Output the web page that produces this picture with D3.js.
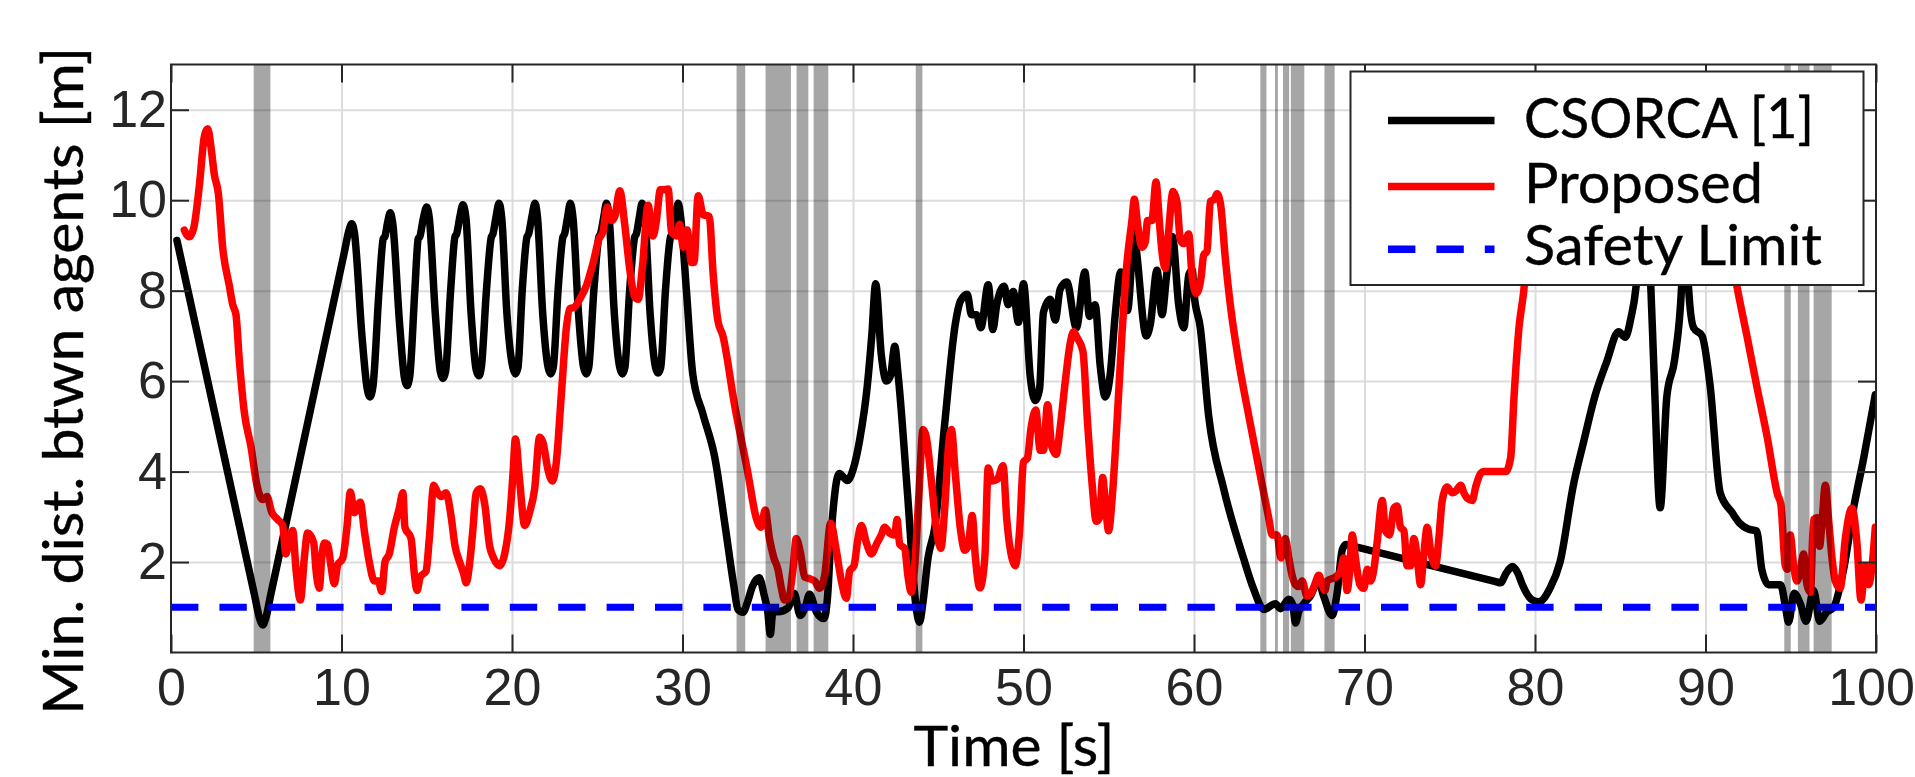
<!DOCTYPE html>
<html><head><meta charset="utf-8">
<script src="https://cdn.jsdelivr.net/npm/d3@7"></script>
<style>body{margin:0;background:#fff;} svg{display:block;}</style>
</head><body>
<svg id="chart" width="1915" height="777"></svg>
<script>
// ---------------- DATA ----------------
const csorcaT = [0.35,1.0,4.9,5.2,5.38,5.55,5.85,10.15,10.45,10.6,10.75,11.2,11.5,11.67,11.85,12.2,12.45,12.55,12.7,12.86,13.0,13.4,13.7,13.84,14.0,14.3,14.5,14.6,14.8,15.0,15.15,15.5,15.8,15.95,16.1,16.4,16.66,16.75,16.95,17.12,17.3,17.6,17.9,18.06,18.2,18.5,18.79,18.88,19.05,19.24,19.4,19.7,20.05,20.2,20.35,20.6,20.88,20.97,21.15,21.35,21.5,21.8,22.12,22.27,22.42,22.7,22.99,23.08,23.25,23.42,23.58,23.9,24.2,24.36,24.5,24.8,25.1,25.19,25.37,25.54,25.7,26.0,26.32,26.48,26.62,26.9,27.2,27.29,27.46,27.63,27.8,28.1,28.42,28.57,28.72,29.0,29.3,29.4,29.57,29.75,29.9,30.23,30.6,31.2,31.9,32.5,33.0,33.25,33.55,33.8,34.1,34.5,34.8,35.0,35.15,35.3,35.6,36.2,36.55,36.9,37.2,37.45,37.85,38.3,38.5,38.7,39.2,39.67,40.0,40.4,40.84,41.1,41.33,41.66,41.96,42.2,42.45,42.64,43.2,43.7,43.9,44.1,44.4,44.8,45.38,46.0,46.3,46.7,46.95,47.24,47.5,47.93,48.2,48.43,48.86,49.1,49.4,49.7,50.0,50.4,50.68,50.94,51.17,51.57,51.86,52.15,52.54,53.1,53.6,53.87,54.2,54.5,54.8,55.09,55.38,55.7,56.1,56.5,56.65,57.2,57.44,57.83,58.12,58.4,58.73,59.1,59.4,59.7,59.9,60.0,60.37,60.86,61.74,62.9,63.5,64.1,64.77,65.07,65.56,65.8,65.95,66.14,66.44,66.83,67.28,67.6,68.1,68.4,68.69,68.9,69.2,77.7,77.98,78.3,78.67,79.0,79.26,79.84,80.23,80.88,81.47,82.25,82.84,83.5,84.2,84.9,85.3,85.6,85.93,86.2,86.45,86.75,87.0,87.34,87.73,88.2,88.6,88.8,89.0,89.3,89.8,90.27,90.86,91.55,92.0,92.5,93.0,93.3,93.7,94.4,94.7,94.87,95.2,95.56,95.9,96.34,96.7,97.12,97.5,98.1,98.69,99.28,99.96];
const csorcaV = [9.11,7.99,1.267,0.75,0.61,0.75,1.28,8.82,9.35,9.48,9.3,7.0,5.85,5.65,5.9,8.0,9.15,9.2,9.5,9.72,9.5,7.3,6.05,5.9,6.1,8.0,9.15,9.2,9.6,9.85,9.6,7.5,6.2,6.06,6.2,8.0,9.2,9.25,9.65,9.9,9.6,7.5,6.25,6.12,6.3,8.0,9.19,9.25,9.6,9.93,9.6,7.5,6.3,6.16,6.3,8.0,9.19,9.25,9.6,9.93,9.6,7.5,6.3,6.16,6.3,8.0,9.19,9.25,9.6,9.93,9.6,7.5,6.3,6.16,6.3,8.0,9.19,9.25,9.6,9.93,9.6,7.5,6.3,6.16,6.3,8.0,9.19,9.25,9.6,9.93,9.6,7.5,6.3,6.18,6.3,8.0,9.19,9.25,9.6,9.93,9.6,8.0,6.16,5.27,4.3,2.8,1.5,0.95,0.89,1.1,1.46,1.65,1.25,0.9,0.4,0.9,0.9,0.99,1.31,0.82,1.0,1.29,0.9,0.75,1.2,2.5,3.96,3.8,4.04,4.72,5.9,7.0,8.15,6.58,6.0,6.12,6.77,6.16,3.5,1.0,0.67,1.1,2.09,2.77,5.06,7.26,7.77,7.92,7.47,7.47,7.18,8.13,7.14,7.69,8.1,7.69,7.98,7.3,8.15,6.08,5.57,5.82,7.52,7.81,7.35,8.03,8.19,7.18,8.41,7.43,7.69,6.33,5.65,6.16,7.47,8.41,7.56,9.3,8.8,7.0,7.26,8.45,7.47,8.36,9.2,7.69,7.18,8.36,8.45,7.94,7.18,5.23,3.62,2.09,1.4,0.95,1.08,0.97,1.18,1.05,0.65,0.9,1.08,1.25,1.58,1.25,0.82,1.33,2.26,2.39,2.362,1.566,1.54,1.75,1.9,1.75,1.5,1.16,1.12,1.42,2.0,3.7,4.64,5.65,6.42,7.09,6.97,7.35,8.1,9.5,10.3,8.5,6.0,3.2,5.65,6.5,8.1,10.0,8.1,7.18,7.0,5.9,3.53,3.1,2.86,2.73,2.69,1.84,1.5,1.5,0.99,0.67,1.31,1.08,0.69,1.37,0.69,0.9,0.99,1.84,3.2,4.3,5.7];

const proposedT = [0.78,1.07,1.33,1.66,1.96,2.15,2.35,2.54,2.78,3.03,3.42,3.62,3.81,4.0,4.3,4.69,5.04,5.38,5.63,5.9,6.26,6.55,6.74,6.88,7.14,7.33,7.59,7.82,8.01,8.37,8.5,8.7,8.84,8.99,9.19,9.38,9.58,9.78,10.07,10.32,10.52,10.75,11.1,11.34,11.63,11.93,12.16,12.36,12.55,12.8,13.1,13.39,13.6,13.72,14.08,14.27,14.43,14.62,14.96,15.15,15.41,15.64,15.84,16.13,16.42,16.66,16.93,17.16,17.32,17.5,17.7,17.9,18.14,18.4,18.69,18.92,19.28,19.57,19.86,20.06,20.2,20.45,20.74,21.04,21.33,21.62,21.82,22.11,22.37,22.6,22.9,23.19,23.39,23.68,23.97,24.36,24.76,25.1,25.34,25.58,25.83,26.03,26.32,26.61,26.9,27.2,27.4,27.65,27.98,28.27,28.47,28.7,28.9,29.16,29.35,29.65,29.84,30.04,30.27,30.53,30.67,30.92,31.21,31.57,31.8,32.07,32.37,33.05,33.84,34.32,34.6,34.85,35.1,35.36,35.6,35.8,35.99,36.22,36.48,36.67,36.93,37.16,37.46,37.75,38.04,38.34,38.69,39.02,39.32,39.61,39.8,40.06,40.29,40.49,40.78,41.08,41.37,41.66,41.86,42.15,42.45,42.58,42.74,43.03,43.23,43.42,43.62,43.86,44.11,44.3,44.6,44.89,45.15,45.38,45.62,45.77,46.0,46.3,46.56,46.75,46.99,47.18,47.44,47.73,47.93,48.16,48.47,48.8,49.02,49.32,49.51,49.77,50.0,50.23,50.43,50.72,50.98,51.17,51.41,51.66,51.92,52.15,52.45,52.74,52.94,53.13,53.48,53.76,54.01,54.27,54.46,54.64,54.79,54.99,55.19,55.48,55.77,56.07,56.36,56.5,56.69,56.95,57.14,57.28,57.53,57.77,57.98,58.12,58.32,58.51,58.77,59.0,59.2,59.39,59.69,59.88,60.14,60.41,60.57,60.76,60.96,61.19,61.35,61.55,61.84,62.13,62.52,63.3,64.09,64.4,64.58,64.87,65.1,65.36,65.56,65.75,65.95,66.14,66.34,66.63,66.83,67.08,67.32,67.51,67.67,67.81,68.3,68.59,68.79,68.98,69.12,69.28,69.47,69.73,69.96,70.16,70.35,70.55,70.74,71.04,71.23,71.47,71.72,71.92,72.11,72.31,72.5,72.7,72.9,73.09,73.29,73.48,73.68,73.87,74.17,74.36,74.56,74.85,75.15,75.38,75.64,75.83,76.03,76.32,76.52,76.81,77.0,78.28,78.57,78.77,79.06,79.35,79.6,80.0,81.0,84.0,88.0,90.5,91.2,91.84,92.43,93.0,93.6,94.23,94.42,94.68,94.8,94.97,95.17,95.36,95.56,95.75,95.95,96.15,96.34,96.54,96.69,96.83,97.03,97.22,97.42,97.61,97.9,98.2,98.59,98.88,99.12,99.37,99.57,99.77,99.96];
const proposedV = [9.34,9.19,9.38,10.31,11.42,11.58,11.16,10.57,10.14,8.96,8.11,7.69,7.47,6.5,5.31,4.55,3.7,3.38,3.45,3.11,2.94,2.81,2.18,2.39,2.7,1.84,1.16,2.09,2.64,2.43,1.84,1.42,2.09,2.42,2.39,1.92,1.52,1.94,2.08,2.77,3.55,3.09,3.32,2.69,2.0,1.58,1.58,1.35,2.0,2.18,2.77,3.19,3.53,2.77,2.52,1.75,1.37,1.67,1.8,2.52,3.7,3.53,3.45,3.53,3.03,2.35,2.0,1.75,1.54,1.92,2.69,3.53,3.62,3.28,2.35,2.09,1.92,2.18,2.94,3.96,4.72,3.79,2.81,3.11,3.62,4.76,4.64,4.04,3.79,4.21,5.74,7.18,7.6,7.64,7.81,8.11,8.62,9.14,9.31,9.85,9.55,9.64,10.21,9.47,8.49,7.86,7.81,8.53,9.89,9.21,9.55,10.23,10.23,10.25,9.3,9.21,9.47,8.96,9.34,8.62,8.62,10.1,9.68,9.64,8.36,7.35,7.0,5.48,3.96,2.98,2.77,3.15,2.52,2.09,1.84,1.42,1.16,1.2,1.84,2.52,2.18,1.67,1.63,1.58,1.42,1.71,2.86,2.26,1.58,1.2,1.8,1.92,2.52,2.81,2.43,2.18,2.39,2.6,2.77,2.64,2.6,2.94,2.39,2.3,1.67,1.33,1.92,3.45,4.93,4.76,3.79,2.73,2.3,3.19,4.64,4.93,3.96,2.73,2.26,2.35,3.03,2.09,1.43,2.09,4.08,3.79,3.83,4.13,2.94,2.09,1.92,2.69,4.21,4.3,4.93,5.36,4.47,4.47,5.48,4.55,4.38,4.97,5.99,6.84,7.09,6.97,6.67,5.06,3.79,2.9,2.98,3.87,3.36,2.69,3.36,5.06,7.0,8.62,9.55,10.02,9.47,8.96,9.08,9.55,9.55,10.4,9.47,8.87,8.49,9.3,10.19,9.97,9.13,9.04,9.25,8.36,7.94,8.28,8.79,8.87,9.97,10.02,10.14,9.93,8.7,7.69,6.67,5.06,3.53,2.94,2.6,2.6,2.09,2.52,2.09,1.71,1.5,1.46,1.58,1.25,1.29,1.5,1.71,1.5,1.37,1.58,1.67,1.8,2.09,1.37,1.75,2.6,2.09,1.5,1.42,1.84,1.58,1.84,2.43,3.36,2.69,2.6,3.19,3.24,2.77,2.69,1.92,1.92,2.52,2.09,1.5,2.18,2.77,2.26,1.92,2.52,3.36,3.66,3.53,3.58,3.7,3.53,3.41,3.36,3.66,3.96,4.0,4.0,4.3,5.65,7.18,8.03,9.2,10.0,10.3,10.0,10.2,10.0,9.5,8.1,7.0,5.9,4.8,3.49,3.28,1.92,1.84,2.6,1.92,1.58,1.8,2.18,1.5,1.33,2.94,2.98,2.35,2.86,3.7,2.94,2.09,1.58,1.42,2.52,3.19,2.43,1.16,1.92,1.5,1.92,2.77];

const safetyT = [0, 100];
const safetyV = [1, 1];

// grey shaded intervals [start, end] in seconds
const shadeStart = [4.85,33.17,34.87,36.69,37.69,43.68,63.89,64.75,65.22,65.68,67.65,94.62,95.42,96.34];
const shadeEnd   = [5.83,33.68,36.36,37.38,38.55,44.07,64.25,64.92,65.58,66.47,68.25,95.0,96.1,97.4];

const xTicks = [0,10,20,30,40,50,60,70,80,90,100];
const yTicks = [2,4,6,8,10,12];
const legendLabels = ["CSORCA [1]", "Proposed", "Safety Limit"];
const xLabel = "Time [s]";
const yLabel = "Min. dist. btwn agents [m]";

// ---------------- LAYOUT ----------------
const L = 171, R = 1876, T = 64.5, B = 652.5;
const svg = d3.select("#chart");
const x = d3.scaleLinear().domain([0, 100]).range([L, R]);
const y = d3.scaleLinear().domain([0, 13]).range([B, T]);
const axisColor = "#262626";
const tickFont = "'Liberation Sans', Arial, sans-serif";
const labelFont = "Lato, 'Open Sans', sans-serif";

svg.append("rect").attr("width", 1915).attr("height", 777).attr("fill", "#fff");

// grid
const gridV = svg.append("g").attr("transform", `translate(0,${B})`)
  .call(d3.axisBottom(x).tickValues(xTicks.slice(1, -1)).tickSize(-(B - T)).tickFormat(""));
const gridH = svg.append("g").attr("transform", `translate(${L},0)`)
  .call(d3.axisLeft(y).tickValues(yTicks).tickSize(-(R - L)).tickFormat(""));
[gridV, gridH].forEach(g => {
  g.select(".domain").remove();
  g.selectAll("line").attr("stroke", "#dcdcdc").attr("stroke-width", 2);
});

// clip
svg.append("clipPath").attr("id", "plotclip").append("rect")
  .attr("x", L).attr("y", T).attr("width", R - L).attr("height", B - T);

const plot = svg.append("g").attr("clip-path", "url(#plotclip)");
const mkData = (ts, vs) => ts.map((t, i) => ({t, v: vs[i]}));
const line = d3.line().x(d => x(d.t)).y(d => y(d.v)).curve(d3.curveMonotoneX);
const lw = 7.5;

plot.append("path").datum(mkData(csorcaT, csorcaV)).attr("d", line)
  .attr("fill", "none").attr("stroke", "#000").attr("stroke-width", lw)
  .attr("stroke-linejoin", "round").attr("stroke-linecap", "round");
plot.append("path").datum(mkData(proposedT, proposedV)).attr("d", line)
  .attr("fill", "none").attr("stroke", "#ff0000").attr("stroke-width", lw)
  .attr("stroke-linejoin", "round").attr("stroke-linecap", "round");
plot.append("path").datum(mkData(safetyT, safetyV)).attr("d", d3.line().x(d => x(d.t)).y(d => y(d.v)))
  .attr("fill", "none").attr("stroke", "#0000ff").attr("stroke-width", 7)
  .attr("stroke-dasharray", "27.4 21");

// shaded bands (on top, translucent)
plot.selectAll("rect.band").data(shadeStart.map((s, i) => [s, shadeEnd[i]])).join("rect")
  .attr("class", "band")
  .attr("x", d => x(d[0])).attr("width", d => x(d[1]) - x(d[0]))
  .attr("y", T).attr("height", B - T)
  .attr("fill", "#000").attr("fill-opacity", 0.35);

// axes
function styleAxis(g) {
  g.select(".domain").remove();
  g.selectAll(".tick line").attr("stroke", axisColor).attr("stroke-width", 2);
  g.selectAll(".tick text").attr("fill", axisColor)
    .style("font-family", tickFont).style("font-size", "52px");
}
const xAxisG = svg.append("g").attr("transform", `translate(0,${B})`)
  .call(d3.axisBottom(x).tickValues(xTicks).tickSizeInner(-18).tickSizeOuter(0).tickPadding(16))
  .call(styleAxis);
// keep the last label ("100") inside the canvas, as in the reference
xAxisG.selectAll(".tick text").filter(d => d === 100).attr("dx", -5);
svg.append("g").attr("transform", `translate(${L},0)`)
  .call(d3.axisLeft(y).tickValues(yTicks).tickSizeInner(-18).tickSizeOuter(0).tickPadding(4))
  .call(styleAxis);
svg.append("g").attr("transform", `translate(0,${T})`)
  .call(d3.axisTop(x).tickValues(xTicks).tickSizeInner(-18).tickSizeOuter(0).tickFormat(""))
  .call(styleAxis);
svg.append("g").attr("transform", `translate(${R},0)`)
  .call(d3.axisRight(y).tickValues(yTicks).tickSizeInner(-18).tickSizeOuter(0).tickFormat(""))
  .call(styleAxis);

svg.append("rect").attr("x", L).attr("y", T).attr("width", R - L).attr("height", B - T)
  .attr("fill", "none").attr("stroke", axisColor).attr("stroke-width", 2);

// axis labels
function labelStyle(sel) {
  sel.style("font-family", labelFont).style("font-size", "56px")
    .attr("fill", "#000").attr("stroke", "#000").attr("stroke-width", 0.4)
    .attr("lengthAdjust", "spacingAndGlyphs");
}
svg.append("text").text(xLabel)
  .attr("x", 1014).attr("y", 766).attr("text-anchor", "middle")
  .attr("textLength", 201).call(labelStyle);
svg.append("text").text(yLabel)
  .attr("transform", "translate(83,381) rotate(-90)").attr("text-anchor", "middle")
  .attr("textLength", 668).call(labelStyle);

// legend
const lg = svg.append("g");
lg.append("rect").attr("x", 1350.5).attr("y", 71.5).attr("width", 513).attr("height", 213.5)
  .attr("fill", "#fff").attr("stroke", axisColor).attr("stroke-width", 2);
const legColors = ["#000", "#ff0000", "#0000ff"];
const legDash = [null, null, "27.4 21"];
const legLineY = [120.5, 186.5, 249.3];
const legBase = [137.5, 202.5, 265];
const legLen = [290, 239, 298];
legendLabels.forEach((lab, i) => {
  lg.append("line").attr("x1", 1388).attr("x2", 1494.5)
    .attr("y1", legLineY[i]).attr("y2", legLineY[i])
    .attr("stroke", legColors[i]).attr("stroke-width", lw)
    .attr("stroke-dasharray", legDash[i]);
  lg.append("text").text(lab).attr("x", 1524).attr("y", legBase[i])
    .attr("textLength", legLen[i]).call(labelStyle);
});
</script>
</body></html>
